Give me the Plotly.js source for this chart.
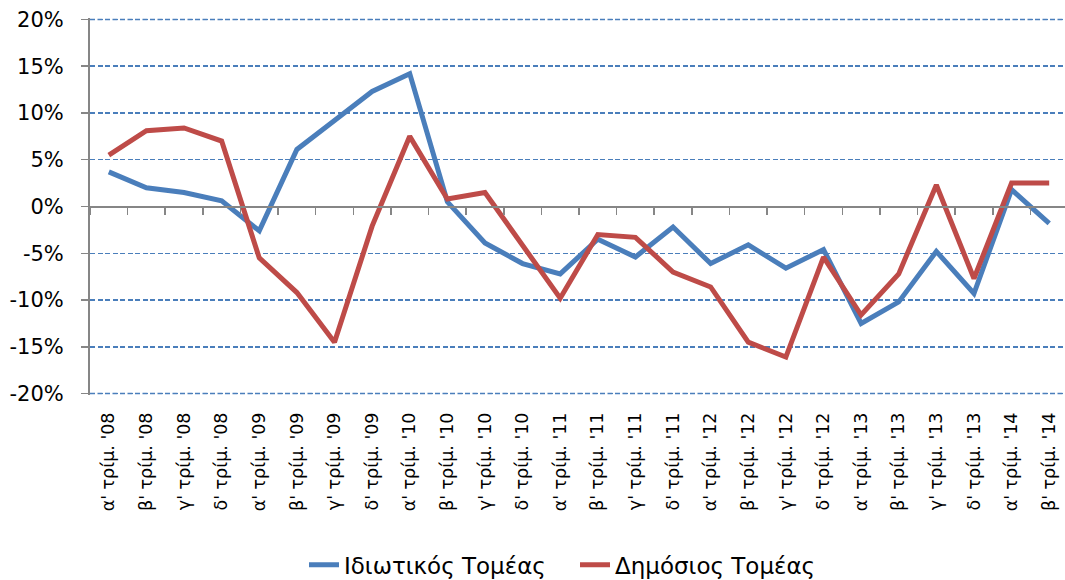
<!DOCTYPE html>
<html>
<head>
<meta charset="utf-8">
<script src="https://cdn.plot.ly/plotly-3.0.1.min.js"></script>
<style>html,body{margin:0;padding:0;background:#fff;overflow:hidden;}#chart{width:1068px;height:580px;}</style>
</head>
<body>
<div id="chart"></div>
<script>
const quarters = ["α' τρίμ. '08","β' τρίμ. '08","γ' τρίμ. '08","δ' τρίμ. '08",
  "α' τρίμ. '09","β' τρίμ. '09","γ' τρίμ. '09","δ' τρίμ. '09",
  "α' τρίμ. '10","β' τρίμ. '10","γ' τρίμ. '10","δ' τρίμ. '10",
  "α' τρίμ. '11","β' τρίμ. '11","γ' τρίμ. '11","δ' τρίμ. '11",
  "α' τρίμ. '12","β' τρίμ. '12","γ' τρίμ. '12","δ' τρίμ. '12",
  "α' τρίμ. '13","β' τρίμ. '13","γ' τρίμ. '13","δ' τρίμ. '13",
  "α' τρίμ. '14","β' τρίμ. '14"];
const privateSector = [3.7, 2.0, 1.5, 0.6, -2.6, 6.1, 9.2, 12.3, 14.2, 0.5, -3.9, -6.1,
  -7.2, -3.5, -5.4, -2.2, -6.1, -4.1, -6.6, -4.6, -12.5, -10.2, -4.8, -9.3, 1.8, -1.8];
const publicSector = [5.5, 8.1, 8.4, 7.0, -5.5, -9.2, -14.5, -2.1, 7.5, 0.8, 1.5, -4.1,
  -9.8, -3.0, -3.3, -7.0, -8.6, -14.5, -16.1, -5.4, -11.6, -7.2, 2.3, -7.7, 2.5, 2.5];
const seriesNames = ["Ιδιωτικός Τομέας", "Δημόσιος Τομέας"];
const yTicks = [-20, -15, -10, -5, 0, 5, 10, 15, 20];
const yMin = yTicks[0], yMax = yTicks[yTicks.length - 1];

const FONT = "'DejaVu Sans', sans-serif";
const GRID = {color: '#4A7EBB', width: 1.5, dash: '5px,2.5px'};

const traces = [
  {x: quarters, y: privateSector.map(v => v / 100), name: seriesNames[0], type: 'scatter', mode: 'lines',
   line: {color: '#4A7EBB', width: 5}, xaxis: 'x', yaxis: 'y'},
  {x: quarters, y: publicSector.map(v => v / 100), name: seriesNames[1], type: 'scatter', mode: 'lines',
   line: {color: '#BE4B48', width: 5}, xaxis: 'x', yaxis: 'y'},
  {x: quarters, y: quarters.map(() => null), xaxis: 'x2', yaxis: 'y', showlegend: false,
   hoverinfo: 'skip', mode: 'lines'}
];

const layout = {
  width: 1068, height: 580,
  margin: {l: 90, r: 0, t: 18, b: 185, autoexpand: false},
  paper_bgcolor: '#fff', plot_bgcolor: '#fff',
  font: {family: FONT, color: '#000'},
  showlegend: true,
  legend: {orientation: 'h', xref: 'container', x: 304 / 1068, xanchor: 'left',
    yref: 'container', y: 0.026, yanchor: 'middle', entrywidth: 226, entrywidthmode: 'pixels',
    font: {size: 23, family: FONT}, traceorder: 'normal'},
  shapes: [yMin, yMax].map(v => ({type: 'line', xref: 'paper', x0: 0, x1: 1, yref: 'y', y0: v / 100, y1: v / 100,
    line: GRID, layer: 'above'})),
  xaxis: {
    type: 'category', categoryorder: 'array', categoryarray: quarters,
    range: [-0.5, quarters.length - 0.5],
    showgrid: false, zeroline: false, showline: false, ticks: '',
    tickangle: -90, tickfont: {size: 17.5, family: FONT}, ticklabelstandoff: 13, automargin: false
  },
  xaxis2: {
    type: 'category', categoryorder: 'array', categoryarray: quarters,
    range: [-0.5, quarters.length - 0.5],
    overlaying: 'x', anchor: 'free', position: 0.5,
    showgrid: false, zeroline: false, showline: true, linecolor: '#868686', linewidth: 2,
    ticks: 'outside', tickson: 'boundaries', ticklen: 7, tickcolor: '#868686', tickwidth: 1.5,
    showticklabels: false
  },
  yaxis: {
    range: [-0.2015, 0.2015], tickvals: yTicks.map(v => v / 100), ticktext: yTicks.map(v => v + '%'),
    showgrid: true, gridcolor: GRID.color, gridwidth: GRID.width, griddash: GRID.dash,
    zeroline: false, showline: true, linecolor: '#868686', linewidth: 2,
    ticks: 'outside', ticklen: 7, tickcolor: '#868686', tickwidth: 1.5,
    tickfont: {size: 21, family: FONT}, ticklabelstandoff: 13, automargin: false
  }
};

Plotly.newPlot('chart', traces, layout, {displayModeBar: false, staticPlot: true});
</script>
</body>
</html>
